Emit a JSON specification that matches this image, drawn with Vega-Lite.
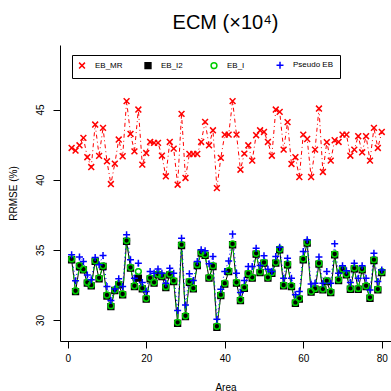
{
"$schema":"https://vega.github.io/schema/vega-lite/v6.json",
"width":331,"height":296,
"autosize":{"type":"none"},
"padding":{"left":60,"top":45,"right":0,"bottom":50},
"background":"white",
"title":{"text":"ECM (×10⁴)","font":"Liberation Sans","fontSize":20,"fontWeight":"normal","color":"black","offset":12,"anchor":"middle"},
"config":{"view":{"stroke":null},
"axis":{"grid":false,"domainColor":"black","tickColor":"black","labelColor":"black","titleColor":"black","labelFont":"Liberation Sans","titleFont":"Liberation Sans","labelFontSize":10,"titleFontSize":10,"titleFontWeight":"normal","tickSize":7,"domainWidth":1,"tickWidth":1},
"legend":{"labelFont":"Liberation Sans","labelFontSize":8,"labelColor":"black","labelOffset":9,"columnPadding":5,"symbolSize":34,"symbolStrokeWidth":1.5,"strokeColor":"black","fillColor":"white","padding":6,"gridAlign":"all"}},
"datasets":{"d":[
{"a":1,"m":"EB_MR","v":42.26},{"a":2,"m":"EB_MR","v":42.07},{"a":3,"m":"EB_MR","v":42.45},{"a":4,"m":"EB_MR","v":42.98},{"a":5,"m":"EB_MR","v":41.6},{"a":6,"m":"EB_MR","v":40.9},{"a":7,"m":"EB_MR","v":43.93},{"a":8,"m":"EB_MR","v":41.7},{"a":9,"m":"EB_MR","v":43.69},{"a":10,"m":"EB_MR","v":41.31},
{"a":11,"m":"EB_MR","v":39.69},{"a":12,"m":"EB_MR","v":41.14},{"a":13,"m":"EB_MR","v":42.86},{"a":14,"m":"EB_MR","v":41.67},{"a":15,"m":"EB_MR","v":45.6},{"a":16,"m":"EB_MR","v":43.26},{"a":17,"m":"EB_MR","v":42.02},{"a":18,"m":"EB_MR","v":45.0},{"a":19,"m":"EB_MR","v":41.07},{"a":20,"m":"EB_MR","v":41.9},
{"a":21,"m":"EB_MR","v":42.69},{"a":22,"m":"EB_MR","v":42.62},{"a":23,"m":"EB_MR","v":42.62},{"a":24,"m":"EB_MR","v":41.71},{"a":25,"m":"EB_MR","v":40.24},{"a":26,"m":"EB_MR","v":42.69},{"a":27,"m":"EB_MR","v":42.21},{"a":28,"m":"EB_MR","v":39.64},{"a":29,"m":"EB_MR","v":44.69},{"a":30,"m":"EB_MR","v":40.12},
{"a":31,"m":"EB_MR","v":41.83},{"a":32,"m":"EB_MR","v":41.83},{"a":33,"m":"EB_MR","v":41.83},{"a":34,"m":"EB_MR","v":42.69},{"a":35,"m":"EB_MR","v":44.12},{"a":36,"m":"EB_MR","v":42.45},{"a":37,"m":"EB_MR","v":43.52},{"a":38,"m":"EB_MR","v":39.4},{"a":39,"m":"EB_MR","v":41.55},{"a":40,"m":"EB_MR","v":43.21},
{"a":41,"m":"EB_MR","v":43.21},{"a":42,"m":"EB_MR","v":45.6},{"a":43,"m":"EB_MR","v":43.21},{"a":44,"m":"EB_MR","v":40.71},{"a":45,"m":"EB_MR","v":41.86},{"a":46,"m":"EB_MR","v":42.45},{"a":47,"m":"EB_MR","v":41.36},{"a":48,"m":"EB_MR","v":43.17},{"a":49,"m":"EB_MR","v":43.52},{"a":50,"m":"EB_MR","v":43.4},
{"a":51,"m":"EB_MR","v":42.69},{"a":52,"m":"EB_MR","v":41.71},{"a":53,"m":"EB_MR","v":45.0},{"a":54,"m":"EB_MR","v":44.83},{"a":55,"m":"EB_MR","v":42.14},{"a":56,"m":"EB_MR","v":44.1},{"a":57,"m":"EB_MR","v":41.12},{"a":58,"m":"EB_MR","v":41.6},{"a":59,"m":"EB_MR","v":40.19},{"a":60,"m":"EB_MR","v":43.21},
{"a":61,"m":"EB_MR","v":42.9},{"a":62,"m":"EB_MR","v":40.19},{"a":63,"m":"EB_MR","v":42.14},{"a":64,"m":"EB_MR","v":45.07},{"a":65,"m":"EB_MR","v":40.55},{"a":66,"m":"EB_MR","v":42.67},{"a":67,"m":"EB_MR","v":41.36},{"a":68,"m":"EB_MR","v":42.81},{"a":69,"m":"EB_MR","v":42.69},{"a":70,"m":"EB_MR","v":43.21},
{"a":71,"m":"EB_MR","v":43.21},{"a":72,"m":"EB_MR","v":41.71},{"a":73,"m":"EB_MR","v":42.14},{"a":74,"m":"EB_MR","v":43.1},{"a":75,"m":"EB_MR","v":41.95},{"a":76,"m":"EB_MR","v":43.1},{"a":77,"m":"EB_MR","v":41.36},{"a":78,"m":"EB_MR","v":43.69},{"a":79,"m":"EB_MR","v":42.26},{"a":80,"m":"EB_MR","v":43.4},
{"a":1,"m":"EB_I2","v":34.29},{"a":2,"m":"EB_I2","v":32.02},{"a":3,"m":"EB_I2","v":33.81},{"a":4,"m":"EB_I2","v":33.57},{"a":5,"m":"EB_I2","v":32.62},{"a":6,"m":"EB_I2","v":32.43},{"a":7,"m":"EB_I2","v":34.17},{"a":8,"m":"EB_I2","v":32.93},{"a":9,"m":"EB_I2","v":33.81},{"a":10,"m":"EB_I2","v":31.71},
{"a":11,"m":"EB_I2","v":30.95},{"a":12,"m":"EB_I2","v":32.1},{"a":13,"m":"EB_I2","v":32.5},{"a":14,"m":"EB_I2","v":31.79},{"a":15,"m":"EB_I2","v":35.6},{"a":16,"m":"EB_I2","v":33.69},{"a":17,"m":"EB_I2","v":32.38},{"a":18,"m":"EB_I2","v":32.98},{"a":19,"m":"EB_I2","v":32.21},{"a":20,"m":"EB_I2","v":31.48},
{"a":21,"m":"EB_I2","v":32.93},{"a":22,"m":"EB_I2","v":32.62},{"a":23,"m":"EB_I2","v":33.21},{"a":24,"m":"EB_I2","v":33.1},{"a":25,"m":"EB_I2","v":32.31},{"a":26,"m":"EB_I2","v":33.21},{"a":27,"m":"EB_I2","v":32.74},{"a":28,"m":"EB_I2","v":29.76},{"a":29,"m":"EB_I2","v":35.31},{"a":30,"m":"EB_I2","v":30.24},
{"a":31,"m":"EB_I2","v":32.69},{"a":32,"m":"EB_I2","v":32.21},{"a":33,"m":"EB_I2","v":33.88},{"a":34,"m":"EB_I2","v":34.76},{"a":35,"m":"EB_I2","v":34.6},{"a":36,"m":"EB_I2","v":32.98},{"a":37,"m":"EB_I2","v":33.81},{"a":38,"m":"EB_I2","v":29.48},{"a":39,"m":"EB_I2","v":31.74},{"a":40,"m":"EB_I2","v":32.55},
{"a":41,"m":"EB_I2","v":33.45},{"a":42,"m":"EB_I2","v":35.36},{"a":43,"m":"EB_I2","v":32.62},{"a":44,"m":"EB_I2","v":31.38},{"a":45,"m":"EB_I2","v":32.26},{"a":46,"m":"EB_I2","v":33.26},{"a":47,"m":"EB_I2","v":32.98},{"a":48,"m":"EB_I2","v":34.69},{"a":49,"m":"EB_I2","v":33.38},{"a":50,"m":"EB_I2","v":34.05},
{"a":51,"m":"EB_I2","v":32.98},{"a":52,"m":"EB_I2","v":33.33},{"a":53,"m":"EB_I2","v":34.05},{"a":54,"m":"EB_I2","v":35.0},{"a":55,"m":"EB_I2","v":32.43},{"a":56,"m":"EB_I2","v":33.93},{"a":57,"m":"EB_I2","v":32.38},{"a":58,"m":"EB_I2","v":31.19},{"a":59,"m":"EB_I2","v":31.48},{"a":60,"m":"EB_I2","v":34.29},
{"a":61,"m":"EB_I2","v":35.48},{"a":62,"m":"EB_I2","v":31.98},{"a":63,"m":"EB_I2","v":32.19},{"a":64,"m":"EB_I2","v":33.98},{"a":65,"m":"EB_I2","v":32.14},{"a":66,"m":"EB_I2","v":32.74},{"a":67,"m":"EB_I2","v":31.95},{"a":68,"m":"EB_I2","v":34.64},{"a":69,"m":"EB_I2","v":32.81},{"a":70,"m":"EB_I2","v":33.57},
{"a":71,"m":"EB_I2","v":33.21},{"a":72,"m":"EB_I2","v":32.19},{"a":73,"m":"EB_I2","v":33.64},{"a":74,"m":"EB_I2","v":32.19},{"a":75,"m":"EB_I2","v":33.57},{"a":76,"m":"EB_I2","v":32.38},{"a":77,"m":"EB_I2","v":31.55},{"a":78,"m":"EB_I2","v":34.24},{"a":79,"m":"EB_I2","v":32.14},{"a":80,"m":"EB_I2","v":33.38},
{"a":1,"m":"EB_I","v":34.35},{"a":2,"m":"EB_I","v":32.08},{"a":3,"m":"EB_I","v":33.88},{"a":4,"m":"EB_I","v":33.62},{"a":5,"m":"EB_I","v":32.68},{"a":6,"m":"EB_I","v":32.5},{"a":7,"m":"EB_I","v":34.22},{"a":8,"m":"EB_I","v":33.0},{"a":9,"m":"EB_I","v":33.86},{"a":10,"m":"EB_I","v":31.78},
{"a":11,"m":"EB_I","v":31.02},{"a":12,"m":"EB_I","v":32.15},{"a":13,"m":"EB_I","v":32.57},{"a":14,"m":"EB_I","v":31.85},{"a":15,"m":"EB_I","v":35.66},{"a":16,"m":"EB_I","v":33.75},{"a":17,"m":"EB_I","v":32.44},{"a":18,"m":"EB_I","v":33.45},{"a":19,"m":"EB_I","v":32.27},{"a":20,"m":"EB_I","v":31.55},
{"a":21,"m":"EB_I","v":33.0},{"a":22,"m":"EB_I","v":32.68},{"a":23,"m":"EB_I","v":33.27},{"a":24,"m":"EB_I","v":33.16},{"a":25,"m":"EB_I","v":32.37},{"a":26,"m":"EB_I","v":33.27},{"a":27,"m":"EB_I","v":32.8},{"a":28,"m":"EB_I","v":29.83},{"a":29,"m":"EB_I","v":35.37},{"a":30,"m":"EB_I","v":30.3},
{"a":31,"m":"EB_I","v":32.75},{"a":32,"m":"EB_I","v":32.27},{"a":33,"m":"EB_I","v":33.94},{"a":34,"m":"EB_I","v":34.82},{"a":35,"m":"EB_I","v":34.66},{"a":36,"m":"EB_I","v":33.04},{"a":37,"m":"EB_I","v":33.87},{"a":38,"m":"EB_I","v":29.55},{"a":39,"m":"EB_I","v":31.8},{"a":40,"m":"EB_I","v":32.62},
{"a":41,"m":"EB_I","v":33.51},{"a":42,"m":"EB_I","v":35.42},{"a":43,"m":"EB_I","v":32.68},{"a":44,"m":"EB_I","v":31.44},{"a":45,"m":"EB_I","v":32.32},{"a":46,"m":"EB_I","v":33.32},{"a":47,"m":"EB_I","v":33.04},{"a":48,"m":"EB_I","v":34.75},{"a":49,"m":"EB_I","v":33.44},{"a":50,"m":"EB_I","v":34.11},
{"a":51,"m":"EB_I","v":33.04},{"a":52,"m":"EB_I","v":33.39},{"a":53,"m":"EB_I","v":34.11},{"a":54,"m":"EB_I","v":35.06},{"a":55,"m":"EB_I","v":32.49},{"a":56,"m":"EB_I","v":33.99},{"a":57,"m":"EB_I","v":32.44},{"a":58,"m":"EB_I","v":31.25},{"a":59,"m":"EB_I","v":31.54},{"a":60,"m":"EB_I","v":34.35},
{"a":61,"m":"EB_I","v":35.54},{"a":62,"m":"EB_I","v":32.04},{"a":63,"m":"EB_I","v":32.25},{"a":64,"m":"EB_I","v":34.04},{"a":65,"m":"EB_I","v":32.2},{"a":66,"m":"EB_I","v":32.8},{"a":67,"m":"EB_I","v":32.01},{"a":68,"m":"EB_I","v":34.7},{"a":69,"m":"EB_I","v":32.87},{"a":70,"m":"EB_I","v":33.63},
{"a":71,"m":"EB_I","v":33.27},{"a":72,"m":"EB_I","v":32.25},{"a":73,"m":"EB_I","v":33.7},{"a":74,"m":"EB_I","v":32.25},{"a":75,"m":"EB_I","v":33.63},{"a":76,"m":"EB_I","v":32.44},{"a":77,"m":"EB_I","v":31.61},{"a":78,"m":"EB_I","v":34.3},{"a":79,"m":"EB_I","v":32.2},{"a":80,"m":"EB_I","v":33.44},
{"a":1,"m":"Pseudo EB","v":34.64},{"a":2,"m":"Pseudo EB","v":32.8},{"a":3,"m":"Pseudo EB","v":34.48},{"a":4,"m":"Pseudo EB","v":34.17},{"a":5,"m":"Pseudo EB","v":33.21},{"a":6,"m":"Pseudo EB","v":32.86},{"a":7,"m":"Pseudo EB","v":34.45},{"a":8,"m":"Pseudo EB","v":33.93},{"a":9,"m":"Pseudo EB","v":34.6},{"a":10,"m":"Pseudo EB","v":32.38},
{"a":11,"m":"Pseudo EB","v":31.38},{"a":12,"m":"Pseudo EB","v":32.21},{"a":13,"m":"Pseudo EB","v":32.93},{"a":14,"m":"Pseudo EB","v":32.38},{"a":15,"m":"Pseudo EB","v":36.07},{"a":16,"m":"Pseudo EB","v":34.29},{"a":17,"m":"Pseudo EB","v":32.98},{"a":18,"m":"Pseudo EB","v":34.05},{"a":19,"m":"Pseudo EB","v":32.67},{"a":20,"m":"Pseudo EB","v":32.02},
{"a":21,"m":"Pseudo EB","v":33.45},{"a":22,"m":"Pseudo EB","v":33.33},{"a":23,"m":"Pseudo EB","v":33.64},{"a":24,"m":"Pseudo EB","v":33.33},{"a":25,"m":"Pseudo EB","v":32.62},{"a":26,"m":"Pseudo EB","v":33.69},{"a":27,"m":"Pseudo EB","v":33.33},{"a":28,"m":"Pseudo EB","v":30.67},{"a":29,"m":"Pseudo EB","v":35.83},{"a":30,"m":"Pseudo EB","v":31.07},
{"a":31,"m":"Pseudo EB","v":33.29},{"a":32,"m":"Pseudo EB","v":32.81},{"a":33,"m":"Pseudo EB","v":34.17},{"a":34,"m":"Pseudo EB","v":35.0},{"a":35,"m":"Pseudo EB","v":34.93},{"a":36,"m":"Pseudo EB","v":34.0},{"a":37,"m":"Pseudo EB","v":34.52},{"a":38,"m":"Pseudo EB","v":30.05},{"a":39,"m":"Pseudo EB","v":32.19},{"a":40,"m":"Pseudo EB","v":33.45},
{"a":41,"m":"Pseudo EB","v":34.21},{"a":42,"m":"Pseudo EB","v":36.12},{"a":43,"m":"Pseudo EB","v":33.33},{"a":44,"m":"Pseudo EB","v":31.95},{"a":45,"m":"Pseudo EB","v":32.81},{"a":46,"m":"Pseudo EB","v":33.81},{"a":47,"m":"Pseudo EB","v":33.81},{"a":48,"m":"Pseudo EB","v":35.12},{"a":49,"m":"Pseudo EB","v":33.88},{"a":50,"m":"Pseudo EB","v":34.57},
{"a":51,"m":"Pseudo EB","v":33.62},{"a":52,"m":"Pseudo EB","v":33.45},{"a":53,"m":"Pseudo EB","v":34.52},{"a":54,"m":"Pseudo EB","v":35.19},{"a":55,"m":"Pseudo EB","v":32.98},{"a":56,"m":"Pseudo EB","v":34.4},{"a":57,"m":"Pseudo EB","v":32.98},{"a":58,"m":"Pseudo EB","v":31.79},{"a":59,"m":"Pseudo EB","v":32.02},{"a":60,"m":"Pseudo EB","v":34.88},
{"a":61,"m":"Pseudo EB","v":35.71},{"a":62,"m":"Pseudo EB","v":32.57},{"a":63,"m":"Pseudo EB","v":32.62},{"a":64,"m":"Pseudo EB","v":34.48},{"a":65,"m":"Pseudo EB","v":32.62},{"a":66,"m":"Pseudo EB","v":33.45},{"a":67,"m":"Pseudo EB","v":32.62},{"a":68,"m":"Pseudo EB","v":35.43},{"a":69,"m":"Pseudo EB","v":33.33},{"a":70,"m":"Pseudo EB","v":33.86},
{"a":71,"m":"Pseudo EB","v":33.5},{"a":72,"m":"Pseudo EB","v":32.67},{"a":73,"m":"Pseudo EB","v":34.05},{"a":74,"m":"Pseudo EB","v":32.98},{"a":75,"m":"Pseudo EB","v":33.86},{"a":76,"m":"Pseudo EB","v":32.98},{"a":77,"m":"Pseudo EB","v":32.14},{"a":78,"m":"Pseudo EB","v":34.76},{"a":79,"m":"Pseudo EB","v":32.74},{"a":80,"m":"Pseudo EB","v":33.57}
]},
"data":{"name":"d"},
"encoding":{
"x":{"field":"a","type":"quantitative","scale":{"domain":[-1.96,82.35],"nice":false,"zero":false},"axis":{"values":[0,20,40,60,80],"title":"Area","labelPadding":5,"titleY":49,"titleBaseline":"alphabetic"}},
"y":{"field":"v","type":"quantitative","scale":{"domain":[28.5,49.6],"nice":false,"zero":false},"axis":{"values":[30,35,40,45],"title":"RRMSE (%)","labelAngle":270,"labelAlign":"center","labelBaseline":"bottom","labelPadding":8,"titleX":-44,"titleY":148,"titleAngle":270,"titleAlign":"center","titleBaseline":"alphabetic"}}
},
"layer":[
{"transform":[{"filter":"datum.m === 'EB_MR'"}],"mark":{"type":"line","strokeWidth":1,"stroke":"#FF0000","strokeDash":[1,3,4,3]},"encoding":{}},
{"transform":[{"filter":"datum.m === 'EB_I2'"}],"mark":{"type":"line","strokeWidth":1,"stroke":"#000000"},"encoding":{}},
{"transform":[{"filter":"datum.m === 'EB_I'"}],"mark":{"type":"line","strokeWidth":1,"stroke":"#00CD00","strokeDash":[4,4]},"encoding":{}},
{"transform":[{"filter":"datum.m === 'Pseudo EB'"}],"mark":{"type":"line","strokeWidth":1,"stroke":"#0000FF","strokeDash":[1,3]},"encoding":{}},
{"mark":{"type":"point","filled":false,"size":34,"strokeWidth":1.5,"opacity":1},
"encoding":{
"stroke":{"field":"m","type":"nominal","scale":{"domain":["EB_MR","EB_I2","EB_I","Pseudo EB"],"range":["#FF0000","#000000","#00CD00","#0000FF"]},"legend":{"title":null,"orient":"none","legendX":12,"legendY":10,"direction":"horizontal","columns":4}},
"fill":{"field":"m","type":"nominal","scale":{"domain":["EB_MR","EB_I2","EB_I","Pseudo EB"],"range":["transparent","#000000","transparent","transparent"]},"legend":{"title":null,"orient":"none","legendX":12,"legendY":10,"direction":"horizontal","columns":4}},
"shape":{"field":"m","type":"nominal","scale":{"domain":["EB_MR","EB_I2","EB_I","Pseudo EB"],"range":["M-1,-1L1,1M-1,1L1,-1","square","circle","M-1.2,0L1.2,0M0,-1.2L0,1.2"]},"legend":{"title":null,"orient":"none","legendX":12,"legendY":10,"direction":"horizontal","columns":4}}}}
]
}
